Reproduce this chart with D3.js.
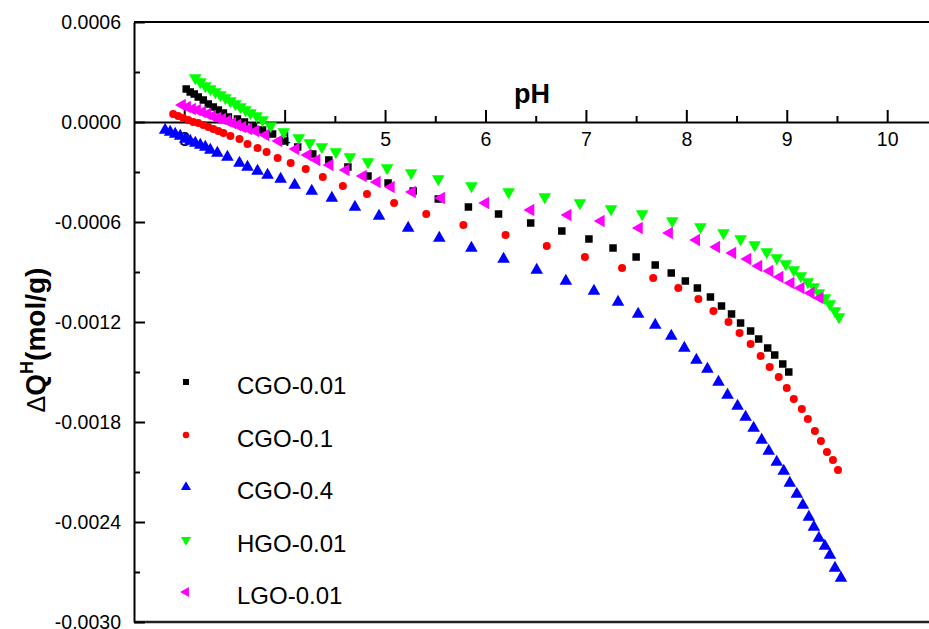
<!DOCTYPE html>
<html>
<head>
<meta charset="utf-8">
<script src="https://cdn.jsdelivr.net/npm/d3@7"></script>
<style>
  html, body { margin: 0; padding: 0; background: #fff; }
  svg { display: block; }
  text { font-family: Arial, "Liberation Sans", sans-serif; }
</style>
</head>
<body>
<svg id="chart" width="929" height="629"></svg>
<script>
// ---------------- data ----------------
const seriesNames = ["CGO-0.01", "CGO-0.1", "CGO-0.4", "HGO-0.01", "LGO-0.01"];

const phCGO001 = [3.02,3.06,3.10,3.14,3.19,3.24,3.29,3.34,3.39,3.44,3.53,3.60,3.69,3.78,3.88,4.00,4.13,4.28,4.44,4.63,4.83,5.03,5.28,5.53,5.83,6.13,6.45,6.76,7.03,7.27,7.50,7.69,7.85,7.99,8.11,8.24,8.35,8.45,8.54,8.64,8.72,8.81,8.88,8.96,9.02];
const qCGO001 = [1.98e-4,1.80e-4,1.68e-4,1.50e-4,1.32e-4,1.08e-4,0.90e-4,0.72e-4,0.54e-4,0.30e-4,0.18e-4,0.00e-4,-0.24e-4,-0.48e-4,-0.72e-4,-1.14e-4,-1.50e-4,-1.92e-4,-2.28e-4,-2.70e-4,-3.24e-4,-3.66e-4,-4.14e-4,-4.62e-4,-5.10e-4,-5.52e-4,-6.06e-4,-6.54e-4,-7.02e-4,-7.56e-4,-8.10e-4,-8.58e-4,-9.06e-4,-9.54e-4,-9.96e-4,-10.50e-4,-11.04e-4,-11.52e-4,-12.06e-4,-12.54e-4,-13.02e-4,-13.56e-4,-13.98e-4,-14.52e-4,-15.00e-4];

const phCGO01 = [2.89,2.94,2.99,3.04,3.09,3.14,3.19,3.24,3.29,3.34,3.39,3.46,3.55,3.63,3.73,3.82,3.93,4.06,4.21,4.38,4.58,4.82,5.09,5.41,5.78,6.20,6.61,6.99,7.36,7.67,7.92,8.12,8.27,8.42,8.53,8.64,8.74,8.83,8.92,9.00,9.07,9.15,9.21,9.28,9.34,9.40,9.46,9.51];
const qCGO01 = [0.48e-4,0.36e-4,0.24e-4,0.12e-4,0.00e-4,-0.06e-4,-0.18e-4,-0.30e-4,-0.42e-4,-0.54e-4,-0.66e-4,-0.84e-4,-1.02e-4,-1.32e-4,-1.56e-4,-1.80e-4,-2.16e-4,-2.46e-4,-2.82e-4,-3.30e-4,-3.84e-4,-4.32e-4,-4.86e-4,-5.52e-4,-6.18e-4,-6.78e-4,-7.44e-4,-8.10e-4,-8.76e-4,-9.36e-4,-9.96e-4,-10.62e-4,-11.34e-4,-12.00e-4,-12.66e-4,-13.32e-4,-14.04e-4,-14.70e-4,-15.30e-4,-15.96e-4,-16.62e-4,-17.22e-4,-17.82e-4,-18.54e-4,-19.14e-4,-19.80e-4,-20.28e-4,-20.88e-4];

const phCGO04 = [2.81,2.86,2.91,2.96,3.01,3.06,3.11,3.16,3.21,3.26,3.33,3.43,3.55,3.63,3.73,3.83,3.96,4.10,4.27,4.47,4.70,4.94,5.23,5.54,5.86,6.18,6.51,6.80,7.08,7.32,7.52,7.69,7.85,7.98,8.10,8.21,8.32,8.41,8.51,8.59,8.67,8.75,8.82,8.90,8.97,9.03,9.10,9.16,9.22,9.27,9.32,9.38,9.43,9.48,9.54];
const qCGO04 = [-0.48e-4,-0.60e-4,-0.72e-4,-0.84e-4,-1.02e-4,-1.14e-4,-1.26e-4,-1.38e-4,-1.50e-4,-1.68e-4,-1.86e-4,-2.10e-4,-2.46e-4,-2.70e-4,-2.94e-4,-3.18e-4,-3.42e-4,-3.78e-4,-4.14e-4,-4.56e-4,-5.10e-4,-5.64e-4,-6.36e-4,-6.96e-4,-7.56e-4,-8.22e-4,-8.88e-4,-9.54e-4,-10.14e-4,-10.80e-4,-11.52e-4,-12.18e-4,-12.84e-4,-13.56e-4,-14.28e-4,-14.82e-4,-15.60e-4,-16.38e-4,-17.04e-4,-17.70e-4,-18.36e-4,-19.08e-4,-19.74e-4,-20.40e-4,-20.94e-4,-21.66e-4,-22.32e-4,-22.98e-4,-23.70e-4,-24.30e-4,-24.96e-4,-25.44e-4,-25.98e-4,-26.76e-4,-27.36e-4];

const phHGO001 = [3.11,3.16,3.21,3.26,3.31,3.36,3.41,3.46,3.51,3.56,3.61,3.66,3.72,3.78,3.86,3.99,4.14,4.25,4.37,4.51,4.65,4.83,5.02,5.26,5.53,5.86,6.23,6.59,6.94,7.25,7.56,7.86,8.14,8.37,8.54,8.68,8.80,8.90,8.99,9.07,9.14,9.21,9.27,9.32,9.38,9.43,9.48,9.52];
const qHGO001 = [2.64e-4,2.40e-4,2.16e-4,1.98e-4,1.80e-4,1.62e-4,1.44e-4,1.26e-4,1.08e-4,0.90e-4,0.72e-4,0.54e-4,0.36e-4,0.12e-4,-0.24e-4,-0.60e-4,-0.96e-4,-1.26e-4,-1.50e-4,-1.80e-4,-2.10e-4,-2.40e-4,-2.76e-4,-3.06e-4,-3.42e-4,-3.84e-4,-4.20e-4,-4.50e-4,-4.86e-4,-5.22e-4,-5.52e-4,-5.94e-4,-6.30e-4,-6.66e-4,-7.02e-4,-7.38e-4,-7.80e-4,-8.16e-4,-8.52e-4,-8.88e-4,-9.24e-4,-9.60e-4,-9.90e-4,-10.26e-4,-10.56e-4,-10.92e-4,-11.34e-4,-11.70e-4];

const phLGO001 = [2.98,3.03,3.08,3.13,3.18,3.23,3.28,3.33,3.38,3.43,3.48,3.53,3.58,3.64,3.71,3.81,3.94,4.11,4.23,4.32,4.45,4.61,4.78,4.92,5.06,5.27,5.56,6.00,6.45,6.82,7.15,7.53,7.83,8.10,8.30,8.46,8.61,8.72,8.83,8.93,9.04,9.14,9.24,9.33];
const qLGO001 = [1.02e-4,0.90e-4,0.78e-4,0.72e-4,0.60e-4,0.48e-4,0.36e-4,0.24e-4,0.18e-4,0.06e-4,-0.06e-4,-0.18e-4,-0.30e-4,-0.42e-4,-0.54e-4,-0.78e-4,-1.14e-4,-1.62e-4,-1.98e-4,-2.28e-4,-2.58e-4,-2.88e-4,-3.24e-4,-3.60e-4,-3.90e-4,-4.20e-4,-4.56e-4,-4.86e-4,-5.28e-4,-5.58e-4,-5.94e-4,-6.36e-4,-6.66e-4,-7.08e-4,-7.50e-4,-7.86e-4,-8.22e-4,-8.64e-4,-8.94e-4,-9.30e-4,-9.66e-4,-9.96e-4,-10.26e-4,-10.56e-4];

const xTickValues = [3, 4, 5, 6, 7, 8, 9, 10];
const xMinorValues = [3.5, 4.5, 5.5, 6.5, 7.5, 8.5, 9.5];
const yTickValues = [0.0006, 0, -0.0006, -0.0012, -0.0018, -0.0024, -0.0030];
const yTickLabels = ["0.0006", "0.0000", "-0.0006", "-0.0012", "-0.0018", "-0.0024", "-0.0030"];
const yMinorValues = [0.0003, -0.0003, -0.0009, -0.0015, -0.0021, -0.0027];

// ---------------- styles ----------------
const colors = ["#000000", "#ff0000", "#0000ff", "#00ff00", "#ff00ff"];
const shapes = ["square", "circle", "up", "down", "left"];

const svg = d3.select("#chart");
const x = d3.scaleLinear().domain([2.5, 10.5]).range([134, 937.4]);
const y = d3.scaleLinear().domain([-0.0030, 0.0006]).range([622, 22]);

// frame lines (top / bottom)
svg.append("line").attr("x1", 134).attr("x2", 929).attr("y1", y(0.0006)).attr("y2", y(0.0006))
  .attr("stroke", "#000").attr("stroke-width", 2);
svg.append("line").attr("x1", 134).attr("x2", 929).attr("y1", y(-0.0030)).attr("y2", y(-0.0030))
  .attr("stroke", "#222").attr("stroke-width", 2.5);

// y axis (ticks inward)
const yAxis = d3.axisLeft(y).tickValues(yTickValues)
  .tickFormat((d, i) => yTickLabels[i]).tickSizeInner(-11).tickSizeOuter(0).tickPadding(13);
const gy = svg.append("g").attr("transform", "translate(134,0)").call(yAxis);
gy.selectAll("text").attr("font-size", 19.5).attr("fill", "#000").attr("font-family", "Arial, 'Liberation Sans', sans-serif");
gy.select(".domain").attr("stroke-width", 2);
gy.selectAll(".tick line").attr("stroke-width", 2);
const yMinor = d3.axisLeft(y).tickValues(yMinorValues).tickFormat("").tickSizeInner(-6).tickSizeOuter(0);
const gym = svg.append("g").attr("transform", "translate(134,0)").call(yMinor);
gym.select(".domain").remove();
gym.selectAll(".tick line").attr("stroke-width", 2);

// x axis at y = 0 (ticks upward)
const xAxis = d3.axisBottom(x).tickValues(xTickValues).tickFormat(d3.format("d"))
  .tickSizeInner(-12).tickSizeOuter(0).tickPadding(10);
const gx = svg.append("g").attr("transform", `translate(0,${y(0)})`).call(xAxis);
gx.selectAll("text").attr("font-size", 19.5).attr("fill", "#000").attr("font-family", "Arial, 'Liberation Sans', sans-serif");
gx.select(".domain").attr("stroke-width", 2);
gx.selectAll(".tick line").attr("stroke-width", 2);
const xMinor = d3.axisBottom(x).tickValues(xMinorValues).tickFormat("").tickSizeInner(-6).tickSizeOuter(0);
const gxm = svg.append("g").attr("transform", `translate(0,${y(0)})`).call(xMinor);
gxm.select(".domain").remove();
gxm.selectAll(".tick line").attr("stroke-width", 2);

// axis titles
svg.append("text").attr("x", 532).attr("y", 103).attr("text-anchor", "middle")
  .attr("font-size", 27).attr("font-weight", "bold").text("pH");

const yt = svg.append("text").attr("transform", "translate(45,340) rotate(-90)")
  .attr("text-anchor", "middle").attr("font-size", 28).attr("font-weight", "bold");
yt.append("tspan").attr("font-weight", "normal").attr("font-size", 25).text("Δ");
yt.append("tspan").text("Q");
yt.append("tspan").attr("font-size", 18).attr("dy", -12).text("H");
yt.append("tspan").attr("dy", 12).text("(mol/g)");

// marker generator
function symbolPath(shape, s) {
  if (shape === "square") return d3.symbol().type(d3.symbolSquare).size(s * s)();
  if (shape === "circle") return d3.symbol().type(d3.symbolCircle).size(Math.PI * (s / 2) * (s / 2))();
  return d3.symbol().type(d3.symbolTriangle).size(s * s * 0.62)();
}
function rotation(shape) {
  if (shape === "down") return 180;
  if (shape === "left") return -90;
  return 0;
}

const seriesData = [
  [phCGO001, qCGO001],
  [phCGO01, qCGO01],
  [phCGO04, qCGO04],
  [phHGO001, qHGO001],
  [phLGO001, qLGO001]
];
const markerSize = [7.5, 8, 10.5, 10.5, 10.5];

seriesData.forEach(([xs, ys], i) => {
  const pts = xs.map((v, j) => ({ x: v, y: ys[j] }));
  svg.append("g").selectAll("path").data(pts).join("path")
    .attr("d", symbolPath(shapes[i], markerSize[i]))
    .attr("transform", d => `translate(${x(d.x)},${y(d.y)}) rotate(${rotation(shapes[i])})`)
    .attr("fill", colors[i]);
});

// legend
const legendY = [382, 435, 487, 540, 592];
const legendSize = [6, 6.5, 8.5, 8.5, 8.5];
seriesNames.forEach((name, i) => {
  const g = svg.append("g").attr("transform", `translate(186,${legendY[i]})`);
  g.append("path").attr("d", symbolPath(shapes[i], legendSize[i]))
    .attr("transform", `rotate(${rotation(shapes[i])})`).attr("fill", colors[i]);
  g.append("text").attr("x", 51).attr("y", 12).attr("font-size", 24).text(name);
});
</script>
</body>
</html>
